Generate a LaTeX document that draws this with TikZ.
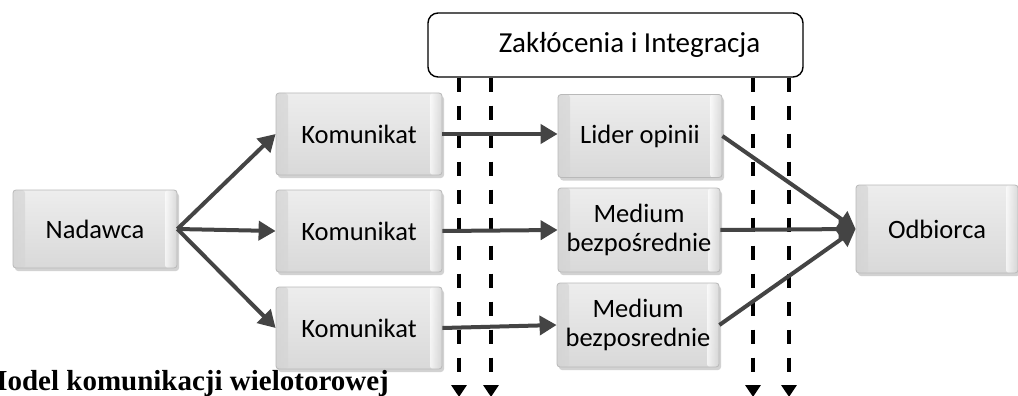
\documentclass[tikz,border=0pt]{standalone}
\usepackage{fontspec}
\setsansfont{Carlito}
\newfontfamily\captionfont{Liberation Serif}
\usetikzlibrary{arrows.meta,shadows}
\definecolor{arrowgray}{HTML}{444444}
\tikzset{
  gbox/.style={rectangle, rounded corners=3pt, draw=gray!55, line width=0.8pt,
    top color=gray!14, middle color=white, bottom color=gray!30,
    drop shadow={shadow xshift=2pt, shadow yshift=-3pt, opacity=0.35, fill=gray},
    path picture={
      \shade[left color=gray!35, right color=white, opacity=0.7]
        (path picture bounding box.south west) rectangle
        ([xshift=12pt]path picture bounding box.north west);
      \shade[left color=white, right color=gray!35, opacity=0.7]
        ([xshift=-12pt]path picture bounding box.south east) rectangle
        (path picture bounding box.north east);
    },
    font=\sffamily\fontsize{26.5}{29}\selectfont, align=center, inner sep=0pt},
  flow/.style={draw=arrowgray, line width=4pt,
    -{Triangle[length=17pt,width=19pt]}},
  noise/.style={draw=black, line width=3.5pt, dash pattern=on 14pt off 14pt,
    -{Triangle[length=12pt,width=15pt]}},
  topbox/.style={rectangle, rounded corners=10pt, draw=black, line width=1.4pt,
    fill=white, font=\sffamily\fontsize{29}{32}\selectfont, inner sep=0pt}
}
\begin{document}
\begin{tikzpicture}[x=1pt,y=-1pt]
\clip (0,0) rectangle (1018,396);
\fill[white] (0,0) rectangle (1018,396);

% noise / integration source
\node[topbox, minimum width=375pt, minimum height=64pt] (top) at (615.5,45) {\hspace*{28pt}Zakłócenia i Integracja};

% sender, messages, channels, receiver
\node[gbox, minimum width=164pt, minimum height=78pt] (nad) at (95,229) {Nadawca};
\node[gbox, minimum width=166pt, minimum height=82pt] (k1) at (359,134) {Komunikat};
\node[gbox, minimum width=166pt, minimum height=82pt] (k2) at (359,231) {Komunikat};
\node[gbox, minimum width=166pt, minimum height=82pt] (k3) at (359,328) {Komunikat};
\node[gbox, minimum width=164pt, minimum height=83pt] (lid) at (640,136) {Lider opinii};
\node[gbox, minimum width=162pt, minimum height=84pt] (m1) at (639,230) {Medium\\bezpośrednie};
\node[gbox, minimum width=162pt, minimum height=84pt] (m2) at (638,325) {Medium\\bezposrednie};
\node[gbox, minimum width=162pt, minimum height=88pt] (odb) at (937,229) {Odbiorca};

% dashed disturbance lines
\coordinate (e1) at (459,397);
\coordinate (e2) at (491,397);
\coordinate (e3) at (753,397);
\coordinate (e4) at (789,397);
\foreach \e in {e1,e2,e3,e4}
  \draw[noise] (top.south -| \e) -- (\e);

% message flow
\draw[flow] (nad.east) -- (k1.west);
\draw[flow] (nad.east) -- (k2.west);
\draw[flow] (nad.east) -- (k3.west);
\draw[flow] (k1.east) -- (k1.east -| lid.west);
\draw[flow] (k2.east) -- (m1.west);
\draw[flow] (k3.east) -- (m2.west);
\draw[flow] (lid.east) -- (odb.west);
\draw[flow] (m1.east) -- (odb.west);
\draw[flow] (m2.east) -- (odb.west);

% caption
\node[anchor=base west, inner sep=0pt, font=\captionfont\bfseries\fontsize{29}{32}\selectfont] (cap) at (-20,390) {Model komunikacji wielotorowej};
\end{tikzpicture}
\end{document}
